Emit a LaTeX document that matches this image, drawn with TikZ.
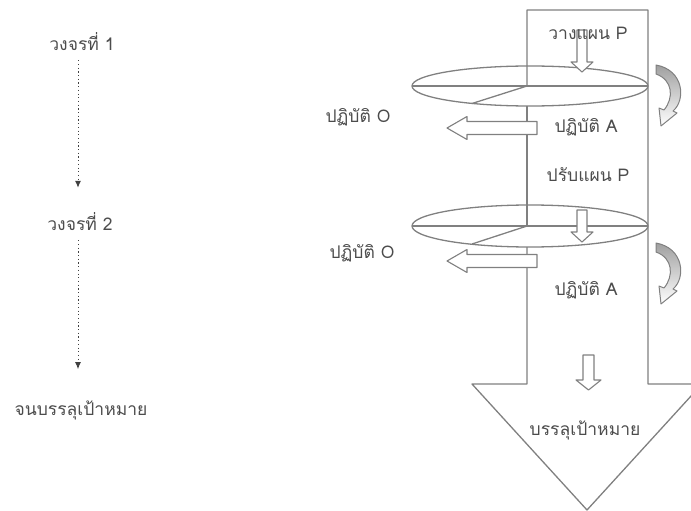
\documentclass[tikz,border=0pt]{standalone}
\usepackage{fontspec}
\newfontfamily\thaifont[Script=Thai]{Loma}
\usetikzlibrary{arrows.meta}
\definecolor{ln}{gray}{0.5}
\definecolor{tx}{gray}{0.3}
\tikzset{
  lbl/.style={font=\thaifont\fontsize{17.5}{20}\selectfont, text=tx, inner sep=1pt},
  outline/.style={draw=ln, line width=1.3pt, line join=round},
  blockarr/.style={draw=ln, line width=1.1pt, fill=white, line join=round},
  curlarr/.style={draw=ln, line width=1pt, top color=gray!75, bottom color=white, line join=round},
  dotarr/.style={draw=black!75, line width=1pt, dash pattern=on 1.2pt off 2.5pt, -{Latex[length=7pt,width=6pt]}}
}
\begin{document}
\begin{tikzpicture}[x=1pt,y=-1pt]
\useasboundingbox (0,0) rectangle (691,511);
\clip (0,0) rectangle (691,511);
% big arrow outline
\draw[outline] (527,86) -- (527,10) -- (648,10) -- (648,384) -- (702,384) -- (587,510) -- (472,384) -- (527,384) -- (527,247);
\draw[outline] (527,106) -- (527,226);
% ellipse 1
\draw[outline] (530,86) ellipse [x radius=118, y radius=20];
\draw[outline] (412,86) -- (648,86);
\draw[outline] (527,86) -- (472,103.5);
% ellipse 2
\draw[outline] (530,226) ellipse [x radius=118, y radius=21];
\draw[outline] (412,226) -- (648,226);
\draw[outline] (527,226) -- (472,244);
% down block arrows
\draw[blockarr] (577,30) -- (587,30) -- (587,62) -- (593,62) -- (582,72) -- (571,62) -- (577,62) -- cycle;
\draw[blockarr] (577,210) -- (587,210) -- (587,232) -- (593,232) -- (582,242) -- (571,232) -- (577,232) -- cycle;
\draw[blockarr] (583,355) -- (594,355) -- (594,380) -- (601,380) -- (588.5,390) -- (576,380) -- (583,380) -- cycle;
% left block arrows
\draw[blockarr] (537,121.5) -- (467,121.5) -- (467,116.5) -- (447,128) -- (467,139.5) -- (467,134.5) -- (537,134.5) -- cycle;
\draw[blockarr] (537,254.5) -- (467,254.5) -- (467,249.5) -- (447,261) -- (467,272.5) -- (467,267.5) -- (537,267.5) -- cycle;
% curled arrows
\foreach \dy in {0,178}{
  \begin{scope}[yshift=-\dy pt]
  \shadedraw[curlarr] (656,65) .. controls (684,70) and (686,100) .. (673,111)
     -- (677,113) -- (661,126) -- (659,108) -- (664,110)
     .. controls (674,98) and (673,80) .. (656,74) -- cycle;
  \end{scope}
}
% labels in the big arrow
\node[lbl] (plan1) at (588,33) {วางแผน P};
\node[lbl] (obs1) at (358,117) {ปฏิบัติ O};
\node[lbl] (act1) at (586,127) {ปฏิบัติ A};
\node[lbl] (plan2) at (588,175) {ปรับแผน P};
\node[lbl] (obs2) at (362,253) {ปฏิบัติ O};
\node[lbl] (act2) at (586,290) {ปฏิบัติ A};
\node[lbl] (goal) at (585,430) {บรรลุเป้าหมาย};
% left column
\node[lbl] (c1) at (82,42) {วงจรที่ 1};
\node[lbl] (c2) at (80,222) {วงจรที่ 2};
\node[lbl] (c3) at (81,410) {จนบรรลุเป้าหมาย};
\draw[dotarr] ([xshift=-4pt,yshift=-8pt]c1.south) -- ([xshift=-2pt,yshift=24pt]c2.north);
\draw[dotarr] ([xshift=-2pt,yshift=-8pt]c2.south) -- ([xshift=-3pt,yshift=30pt]c3.north);
\end{tikzpicture}
\end{document}
